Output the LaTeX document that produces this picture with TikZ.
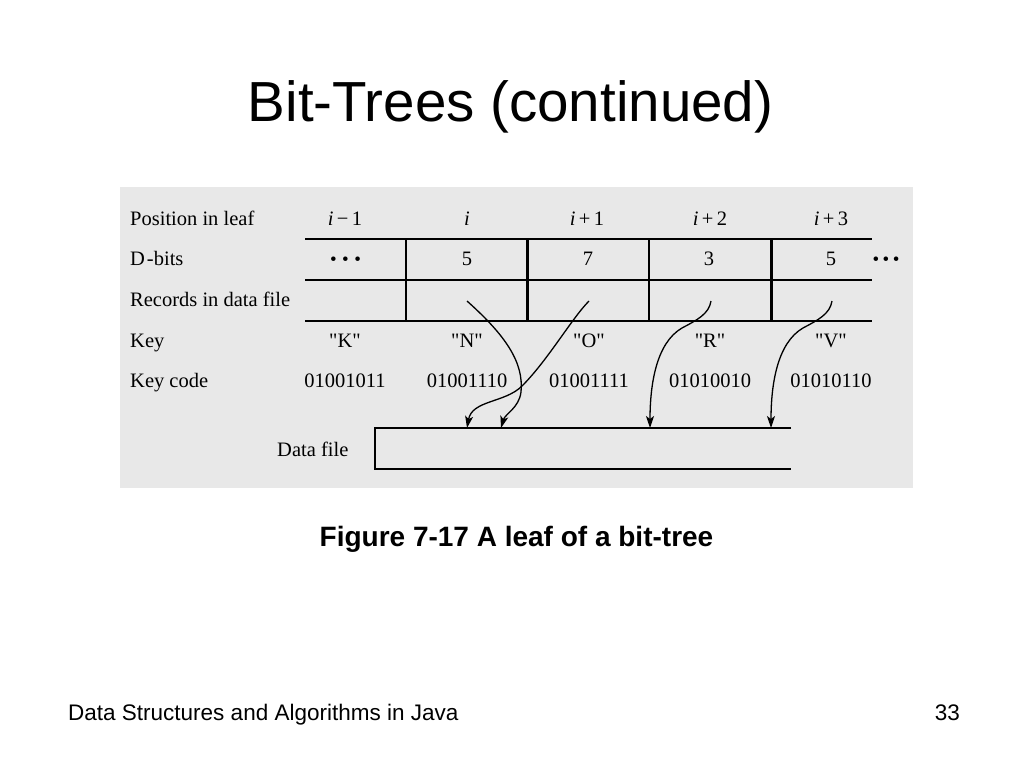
\documentclass[tikz,border=0pt]{standalone}
\usepackage{fontspec}
\setmainfont{Liberation Serif}
\newfontfamily\arialfont{Liberation Sans}
\usetikzlibrary{arrows.meta}
\definecolor{panelgray}{HTML}{E8E8E8}
\newcommand\dqmark{\XeTeXglyph\XeTeXcharglyph"22\relax}
\begin{document}
\begin{tikzpicture}[x=1pt,y=-1pt,
  tbl/.style={line width=2.2pt},
  rowlbl/.style={anchor=base west, inner sep=0pt, font=\fontsize{20.5}{24}\selectfont},
  cell/.style={anchor=base, inner sep=0pt, font=\fontsize{20.5}{24}\selectfont},
  dotsnode/.style={anchor=base, inner sep=0pt, font=\fontsize{19}{19}\selectfont},
  ptr/.style={line width=1.3pt, -{Stealth[length=12pt,width=8pt,inset=3pt]}}
]
\useasboundingbox (0,0) rectangle (1024,768);
\fill[white] (0,0) rectangle (1024,768);
\fill[panelgray] (120,187) rectangle (913,488);

% title, caption, footer
\node[anchor=base, inner sep=0pt, font=\arialfont\fontsize{56.5}{60}\selectfont] (title) at (510.5,121) {Bit-Trees (continued)};
\node[anchor=base, inner sep=0pt, font=\arialfont\bfseries\fontsize{28}{30}\selectfont] (caption) at (516.5,546) {Figure 7-17 A leaf of a bit-tree};
\node[anchor=base west, inner sep=0pt, font=\arialfont\fontsize{22.5}{24}\selectfont] (footer) at (68,720) {Data Structures and Algorithms in Java};
\node[anchor=base east, inner sep=0pt, font=\arialfont\fontsize{22.5}{24}\selectfont] (page) at (960,720) {33};

% table lines
\draw[tbl] (305,239) -- (872,239);
\draw[tbl] (305,280) -- (872,280);
\draw[tbl] (305,321) -- (872,321);
\foreach \xv in {406,527.5,649,771.5} \draw[tbl] (\xv,239) -- (\xv,321);

% data file box
\draw[tbl] (791,428) -- (375,428) -- (375,469) -- (791,469);

% row labels
\node[rowlbl] (rpos) at (130,225) {Position in leaf};
\node[rowlbl] (rdb) at (130,265.5) {D\kern2pt-bits};
\node[rowlbl] (rrec) at (130,306.5) {Records in data file};
\node[rowlbl] (rkey) at (130,347) {Key};
\node[rowlbl] (rcode) at (130,387) {Key code};
\node[rowlbl] (rdata) at (277,456) {Data file};

% positions
\node[cell] (p1) at (345,225) {{\itshape i}\,−\,1};
\node[cell] (p2) at (467,225) {{\itshape i}};
\node[cell] (p3) at (587,225) {{\itshape i}\,+\,1};
\node[cell] (p4) at (710,225) {{\itshape i}\,+\,2};
\node[cell] (p5) at (831,225) {{\itshape i}\,+\,3};

% D-bits
\node[dotsnode] (d1) at (345.5,265) {•\kern5.5pt•\kern5.5pt•};
\node[cell] (d2) at (467,265.5) {5};
\node[cell] (d3) at (588,265.5) {7};
\node[cell] (d4) at (709,265.5) {3};
\node[cell] (d5) at (831,265.5) {5};
\node[dotsnode] (d6) at (886,265) {•\kern3.5pt•\kern3.5pt•};

% keys
\node[cell] (k1) at (345,347) {\dqmark K\dqmark};
\node[cell] (k2) at (467,347) {\dqmark N\dqmark};
\node[cell] (k3) at (589,347) {\dqmark O\dqmark};
\node[cell] (k4) at (710,347) {\dqmark R\dqmark};
\node[cell] (k5) at (831,347) {\dqmark V\dqmark};

% key codes
\node[cell] (c1) at (345,387) {01001011};
\node[cell] (c2) at (467,387) {01001110};
\node[cell] (c3) at (589,387) {01001111};
\node[cell] (c4) at (710,387) {01010010};
\node[cell] (c5) at (831,387) {01010110};

% pointer coordinates
\coordinate (nS) at (467,301);  \coordinate (nE) at (501,428);
\coordinate (oS) at (589,301);  \coordinate (oE) at (467,428);
\coordinate (rS) at (711,301);  \coordinate (rE) at (650,428);
\coordinate (vS) at (832,301);  \coordinate (vE) at (771,428);

\draw[ptr] (nS) .. controls (505,335) and (524,362) .. (521,392) .. controls (519,408) and (505,414) .. (nE);
\draw[ptr] (oS) .. controls (572,318) and (548,360) .. (522,386) .. controls (505,403) and (472,400) .. (oE);
\draw[ptr] (rS) .. controls (709,314) and (697,320) .. (682,328) .. controls (656,343) and (650,385) .. (rE);
\draw[ptr] (vS) .. controls (830,314) and (818,320) .. (803,328) .. controls (777,343) and (771,385) .. (vE);
\end{tikzpicture}
\end{document}
